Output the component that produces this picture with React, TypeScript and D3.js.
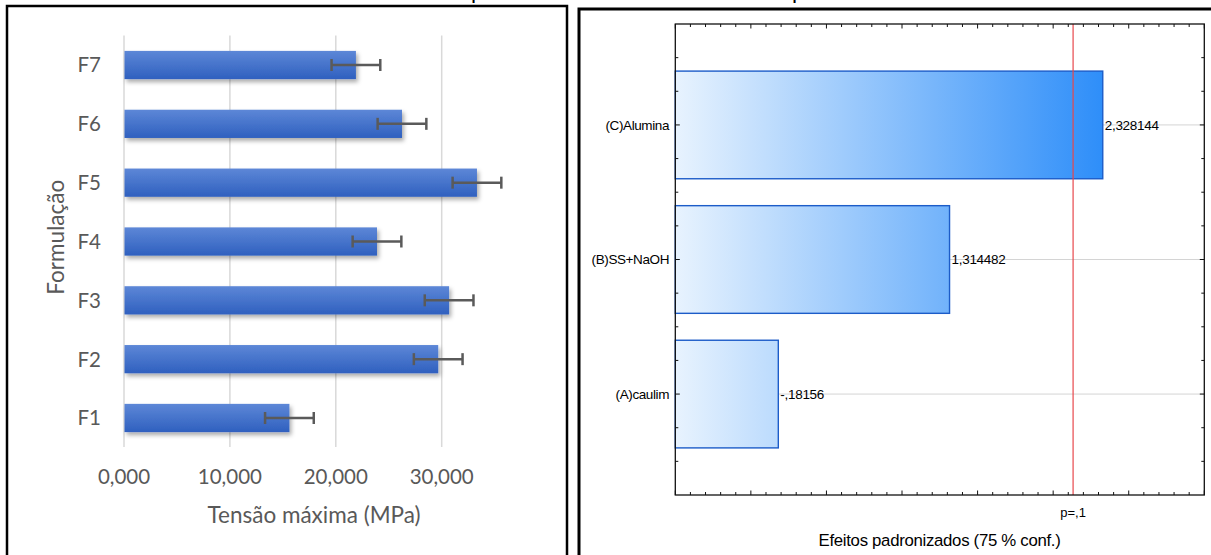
import React from 'react';
import * as d3 from 'd3';

// Left panel: maximum stress per formulation (mean ± error)
const formulations = ['F1', 'F2', 'F3', 'F4', 'F5', 'F6', 'F7'];
const maxStress = [15620, 29670, 30700, 23890, 33330, 26250, 21900];
const stressError = [2300, 2300, 2300, 2300, 2300, 2300, 2300];
const stressTicks = [0, 10000, 20000, 30000];

// Right panel: Pareto chart of standardized effects
const effectFactors = ['(A)caulim', '(B)SS+NaOH', '(C)Alumina'];
const effectPositions = [1, 2, 3];
const effectValues = [-0.18156, 1.314482, 2.328144];
const pCritical = 2.131847;
const pLabel = 'p=,1';

const fmtStress = (v: number) => d3.format(',.3f')(v / 1000).replace('.', ',');
const fmtEffect = (v: number) => String(v).replace('.', ',').replace(/^(-?)0,/, '$1,');

const W = 1211;
const H = 555;

export default function App() {
  // ---- left chart scales ----
  const x = d3.scaleLinear().domain([0, 35000]).range([124, 124 + 3.5 * 105.9]);
  const y = d3
    .scaleBand<string>()
    .domain([...formulations].reverse())
    .range([35.6, 447.4])
    .paddingInner(0.52)
    .paddingOuter(0.26);
  const plotTop = 35.6;
  const plotBottom = 447;

  // ---- right chart scales ----
  const xr = d3.scaleLinear().domain([-0.5, 3.0]).range([675.3, 1204.3]);
  const yr = d3.scaleLinear().domain([0.25, 3.75]).range([495, 24]);
  const barHalf = 0.4;
  const xMinorTicks = d3.range(-5, 31).map((i) => i / 10);
  const yMinorTicks = d3.range(2, 15).map((i) => i / 4);

  const leftFont = "Lato, 'Open Sans', sans-serif";
  const rightFont = "'Liberation Sans', Arial, sans-serif";
  const grey = '#595959';

  return (
    <svg
      width={W}
      height={H}
      viewBox={`0 0 ${W} ${H}`}
      style={{ position: 'absolute', left: 0, top: 0, background: '#fff' }}
    >
      <defs>
        <linearGradient id="stressFill" x1="0" y1="0" x2="0" y2="1">
          <stop offset="0" stopColor="#5d87d7" />
          <stop offset="1" stopColor="#2f60bf" />
        </linearGradient>
        <filter id="barShadow" x="-5%" y="-30%" width="115%" height="180%">
          <feDropShadow dx="2" dy="3" stdDeviation="2.2" floodColor="#000" floodOpacity="0.33" />
        </filter>
        <linearGradient
          id="effectFill"
          gradientUnits="userSpaceOnUse"
          x1={xr(-0.5)}
          y1="0"
          x2={xr(2.328144)}
          y2="0"
        >
          <stop offset="0" stopColor="#e8f3fe" />
          <stop offset="1" stopColor="#2e8ef9" />
        </linearGradient>
      </defs>

      {/* descenders of the heading line above the panels */}
      <text x={471} y={-1.5} fontFamily={leftFont} fontSize={22} fill="#000">p</text>
      <text x={792} y={-1.5} fontFamily={leftFont} fontSize={22} fill="#000">p</text>

      {/* ================= Left panel ================= */}
      <rect x={7} y={6} width={560} height={620} fill="#fff" stroke="#000" strokeWidth={2.5} />

      {stressTicks.map((t) => (
        <line key={t} x1={x(t)} x2={x(t)} y1={plotTop} y2={plotBottom} stroke="#d9d9d9" strokeWidth={1.5} />
      ))}

      {formulations.map((f, i) => {
        const by = y(f)!;
        return (
          <rect
            key={f}
            x={x(0) + 0.5}
            y={by}
            width={x(maxStress[i]) - x(0) - 0.5}
            height={y.bandwidth()}
            fill="url(#stressFill)"
            filter="url(#barShadow)"
          />
        );
      })}

      {formulations.map((f, i) => {
        const cy = y(f)! + y.bandwidth() / 2;
        const lo = x(maxStress[i] - stressError[i]);
        const hi = x(maxStress[i] + stressError[i]);
        return (
          <g key={f} stroke="#5a5a5a" strokeWidth={2.5}>
            <line x1={lo} x2={hi} y1={cy} y2={cy} />
            <line x1={lo} x2={lo} y1={cy - 6} y2={cy + 6} />
            <line x1={hi} x2={hi} y1={cy - 6} y2={cy + 6} />
          </g>
        );
      })}

      {formulations.map((f) => (
        <text
          key={f}
          x={101}
          y={y(f)! + y.bandwidth() / 2}
          dy="0.36em"
          textAnchor="end"
          fontFamily={leftFont}
          fontSize={20.5}
          fill={grey}
        >
          {f}
        </text>
      ))}

      {stressTicks.map((t) => (
        <text key={t} x={x(t)} y={484} textAnchor="middle" fontFamily={leftFont} fontSize={20.5} fill={grey}>
          {fmtStress(t)}
        </text>
      ))}

      <text x={314} y={523} textAnchor="middle" fontFamily={leftFont} fontSize={22.5} fill={grey}>
        Tensão máxima (MPa)
      </text>
      <text
        transform={`translate(64,${(plotTop + plotBottom) / 2 - 4}) rotate(-90)`}
        textAnchor="middle"
        fontFamily={leftFont}
        fontSize={22.5}
        fill={grey}
      >
        Formulação
      </text>

      {/* ================= Right panel ================= */}
      <rect x={579} y={9} width={700} height={620} fill="#fff" stroke="#000" strokeWidth={3} />

      {effectPositions.map((p) => (
        <line key={p} x1={xr(-0.5)} x2={xr(3)} y1={yr(p)} y2={yr(p)} stroke="#d4d4d4" strokeWidth={1} />
      ))}

      {effectValues.map((v, i) => (
        <rect
          key={effectFactors[i]}
          x={xr(-0.5)}
          y={yr(effectPositions[i] + barHalf)}
          width={xr(Math.abs(v)) - xr(-0.5)}
          height={yr(effectPositions[i] - barHalf) - yr(effectPositions[i] + barHalf)}
          fill="url(#effectFill)"
          stroke="#1c5cc8"
          strokeWidth={1.4}
        />
      ))}

      <line x1={xr(pCritical)} x2={xr(pCritical)} y1={yr(3.75)} y2={yr(0.25)} stroke="#e8474b" strokeWidth={1.2} />

      {effectValues.map((v, i) => (
        <text
          key={effectFactors[i]}
          x={xr(Math.abs(v)) + 2}
          y={yr(effectPositions[i])}
          dy="0.36em"
          fontFamily={rightFont}
          fontSize={13.5}
          letterSpacing={-0.3}
          fill="#000"
        >
          {fmtEffect(v)}
        </text>
      ))}

      {/* frame and ticks */}
      <rect
        x={xr(-0.5)}
        y={yr(3.75)}
        width={xr(3) - xr(-0.5)}
        height={yr(0.25) - yr(3.75)}
        fill="none"
        stroke="#111"
        strokeWidth={1.3}
      />
      <g stroke="#111" strokeWidth={1}>
        {xMinorTicks.map((t) => {
          const major = Math.abs(t * 2 - Math.round(t * 2)) < 1e-6;
          const len = major ? 4.5 : 3;
          return (
            <g key={t}>
              <line x1={xr(t)} x2={xr(t)} y1={yr(3.75)} y2={yr(3.75) + len} />
              <line x1={xr(t)} x2={xr(t)} y1={yr(0.25)} y2={yr(0.25) - len} />
            </g>
          );
        })}
        {yMinorTicks.map((t) => {
          const major = Math.abs(t - Math.round(t)) < 1e-6;
          const len = major ? 4.5 : 3;
          return (
            <g key={t}>
              <line x1={xr(-0.5)} x2={xr(-0.5) + len} y1={yr(t)} y2={yr(t)} />
              <line x1={xr(3)} x2={xr(3) - len} y1={yr(t)} y2={yr(t)} />
            </g>
          );
        })}
      </g>

      {effectFactors.map((f, i) => (
        <text
          key={f}
          x={669}
          y={yr(effectPositions[i])}
          dy="0.36em"
          textAnchor="end"
          fontFamily={rightFont}
          fontSize={13.5}
          letterSpacing={-0.4}
          fill="#000"
        >
          {f}
        </text>
      ))}

      <text x={xr(pCritical)} y={517} textAnchor="middle" fontFamily={rightFont} fontSize={13} fill="#000">
        {pLabel}
      </text>
      <text x={939.5} y={546} textAnchor="middle" fontFamily={rightFont} fontSize={16.8} letterSpacing={-0.3} fill="#000">
        Efeitos padronizados (75 % conf.)
      </text>
    </svg>
  );
}
